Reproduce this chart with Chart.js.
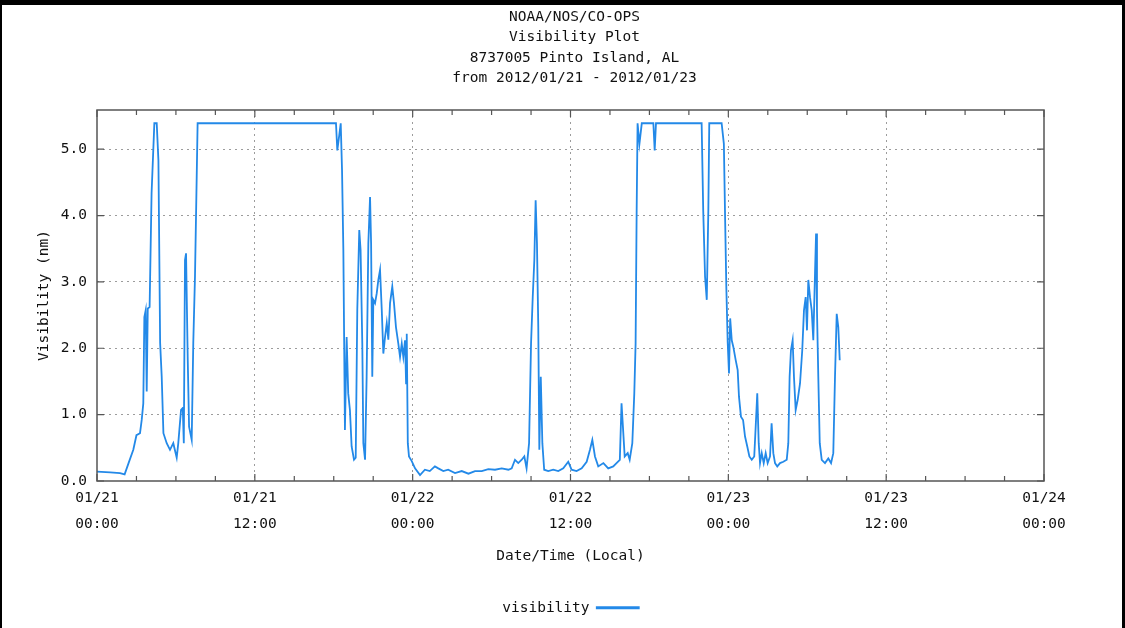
<!DOCTYPE html>
<html lang="en">
<head>
<meta charset="UTF-8">
<title>Visibility Plot</title>
<script src="https://cdn.jsdelivr.net/npm/chart.js"></script>
<style>
    body { margin: 0; background: #000; }
    .frame {
        position: absolute;
        left: 2px;
        top: 5px;
        width: 1120px;
        height: 623px;
        background: #fff;
    }
</style>
</head>
<body>
<div class="frame"><canvas id="visChart" width="1120" height="623"></canvas></div>
<script>
const titleLines = ['NOAA/NOS/CO-OPS', 'Visibility Plot', '8737005 Pinto Island, AL', 'from 2012/01/21 - 2012/01/23'];

// hours since 01/21 00:00 (local)
const hours = [
    0, 1.0, 1.75, 2.1, 2.4, 2.76, 3.0, 3.27, 3.4, 3.52, 3.6, 3.7, 3.78, 3.86, 4.0, 4.15, 4.36, 4.54, 4.67, 4.8,
    4.92, 5.05, 5.3, 5.55, 5.8, 6.06, 6.18, 6.39, 6.52, 6.6, 6.69, 6.77, 6.9, 7.0, 7.2, 7.32, 7.45, 7.58, 7.65, 12,
    18.17, 18.27, 18.42, 18.53, 18.63, 18.73, 18.85, 18.98, 19.1, 19.23, 19.36, 19.54, 19.67, 19.79, 19.94, 20.04, 20.17, 20.25, 20.38, 20.5,
    20.63, 20.76, 20.84, 20.93, 21.01, 21.14, 21.27, 21.39, 21.52, 21.65, 21.77, 21.9, 22.03, 22.15, 22.28, 22.45, 22.58, 22.73, 22.91, 23.04,
    23.17, 23.29, 23.42, 23.5, 23.55, 23.63, 23.72, 23.93, 24.18, 24.56, 24.93, 25.3, 25.69, 25.95, 26.33, 26.7, 27.22, 27.73, 28.24, 28.74,
    29.25, 29.75, 30.26, 30.77, 31.28, 31.53, 31.78, 32.03, 32.29, 32.49, 32.66, 32.85, 33.0, 33.13, 33.25, 33.35, 33.45, 33.55, 33.63, 33.74,
    33.86, 34.0, 34.31, 34.69, 35.07, 35.45, 35.83, 36.08, 36.46, 36.85, 37.23, 37.48, 37.66, 37.86, 38.11, 38.5, 38.87, 39.25, 39.5, 39.75,
    39.88, 40.0, 40.12, 40.35, 40.5, 40.7, 40.85, 40.95, 41.03, 41.1, 41.24, 41.42, 42.3, 42.4, 42.5, 45.97, 46.09, 46.23, 46.36, 46.48,
    46.55, 47.49, 47.66, 47.76, 47.85, 47.95, 48.05, 48.14, 48.26, 48.38, 48.56, 48.71, 48.81, 48.96, 49.12, 49.27, 49.44, 49.6, 49.78, 49.97,
    50.08, 50.2, 50.31, 50.41, 50.54, 50.69, 50.84, 50.99, 51.17, 51.29, 51.42, 51.55, 51.72, 51.93, 52.18, 52.44, 52.56, 52.66, 52.76, 52.89,
    52.99, 53.12, 53.27, 53.45, 53.62, 53.75, 53.88, 53.98, 54.08, 54.21, 54.34, 54.46, 54.59, 54.67, 54.74, 54.84, 54.95, 55.1, 55.35, 55.6,
    55.81, 55.98, 56.11, 56.24, 56.36, 56.47
];

// visibility (nm)
const visibility = [
    0.14, 0.13, 0.12, 0.10, 0.27, 0.47, 0.69, 0.72, 0.92, 1.17, 2.47, 2.57, 1.35, 2.60, 2.62, 4.34, 5.39, 5.39, 4.83, 2.08,
    1.57, 0.72, 0.57, 0.47, 0.57, 0.35, 0.57, 1.07, 1.10, 0.57, 3.33, 3.43, 1.82, 0.82, 0.62, 2.08, 3.08, 4.58, 5.39, 5.39,
    5.39, 4.98, 5.21, 5.39, 4.68, 3.48, 0.77, 2.17, 1.32, 1.07, 0.52, 0.32, 0.35, 2.58, 3.78, 3.48, 2.07, 0.57, 0.32, 1.57,
    3.58, 4.28, 3.58, 1.57, 2.73, 2.68, 2.83, 3.03, 3.18, 2.58, 1.92, 2.17, 2.38, 2.13, 2.68, 2.93, 2.68, 2.32, 2.07, 1.87,
    2.07, 1.87, 2.12, 1.47, 2.22, 0.57, 0.37, 0.30, 0.19, 0.09, 0.17, 0.15, 0.22, 0.19, 0.15, 0.17, 0.12, 0.15, 0.11, 0.15,
    0.15, 0.18, 0.17, 0.19, 0.17, 0.19, 0.32, 0.27, 0.32, 0.37, 0.19, 0.57, 2.07, 2.78, 3.33, 4.23, 3.58, 2.32, 0.47, 1.57,
    0.57, 0.17, 0.15, 0.17, 0.15, 0.19, 0.29, 0.17, 0.15, 0.19, 0.29, 0.47, 0.62, 0.37, 0.22, 0.27, 0.19, 0.22, 0.27, 0.32,
    1.17, 0.77, 0.37, 0.42, 0.32, 0.57, 1.32, 2.07, 4.08, 5.39, 5.08, 5.39, 5.39, 4.98, 5.39, 5.39, 4.08, 3.08, 2.73, 4.08,
    5.39, 5.39, 5.08, 3.90, 2.90, 2.10, 1.62, 2.45, 2.12, 2.02, 1.82, 1.67, 1.27, 0.97, 0.92, 0.67, 0.52, 0.37, 0.32, 0.37,
    0.82, 1.32, 0.57, 0.27, 0.42, 0.27, 0.42, 0.27, 0.37, 0.87, 0.42, 0.27, 0.22, 0.27, 0.29, 0.32, 0.57, 1.57, 1.97, 2.12,
    1.57, 1.07, 1.22, 1.47, 1.97, 2.57, 2.77, 2.27, 3.03, 2.77, 2.57, 2.12, 3.13, 3.73, 2.57, 1.57, 0.57, 0.32, 0.27, 0.34,
    0.27, 0.42, 1.57, 2.52, 2.32, 1.82
];

const xTickHours = [0, 12, 24, 36, 48, 60, 72];
const xTickLabels = [['01/21', '00:00'], ['01/21', '12:00'], ['01/22', '00:00'], ['01/22', '12:00'],
                     ['01/23', '00:00'], ['01/23', '12:00'], ['01/24', '00:00']];
const xMinorStep = 3;
const yTicks = [0, 1, 2, 3, 4, 5];

const fontFamily = '"DejaVu Sans Mono", "Liberation Mono", monospace';
const textColor = '#111';
const gridColor = '#9c9c9c';

// gnuplot style box with inward ticks on all four sides
const framePlugin = {
    id: 'frame',
    afterDatasetsDraw(chart) {
        const { ctx, chartArea: a, scales: { x, y } } = chart;
        ctx.save();
        ctx.strokeStyle = '#555';
        ctx.lineWidth = 1.5;
        ctx.strokeRect(a.left, a.top, a.right - a.left, a.bottom - a.top);
        ctx.lineWidth = 1.2;
        ctx.beginPath();
        for (let h = x.min; h <= x.max; h += xMinorStep) {
            const px = x.getPixelForValue(h);
            const len = xTickHours.includes(h) ? 7 : 5;
            ctx.moveTo(px, a.bottom); ctx.lineTo(px, a.bottom - len);
            ctx.moveTo(px, a.top); ctx.lineTo(px, a.top + len);
        }
        yTicks.forEach(v => {
            const py = y.getPixelForValue(v);
            ctx.moveTo(a.left, py); ctx.lineTo(a.left + 7, py);
            ctx.moveTo(a.right, py); ctx.lineTo(a.right - 7, py);
        });
        ctx.stroke();
        ctx.restore();
    }
};

const ctx = document.getElementById('visChart').getContext('2d');
new Chart(ctx, {
    type: 'line',
    data: {
        datasets: [{
            label: 'visibility',
            data: hours.map((h, i) => ({ x: h, y: visibility[i] })),
            borderColor: '#2389e8',
            backgroundColor: '#2389e8',
            borderWidth: 1.8,
            pointRadius: 0,
            tension: 0,
            fill: false
        }]
    },
    options: {
        responsive: false,
        animation: false,
        devicePixelRatio: 1,
        layout: { padding: { left: 25, right: 0, top: 0, bottom: 3 } },
        plugins: {
            title: {
                display: true,
                text: titleLines,
                color: textColor,
                font: { family: fontFamily, size: 14.5, weight: 'normal', lineHeight: '20.3px' },
                padding: { top: 2, bottom: 21.8 }
            },
            legend: {
                display: true,
                position: 'bottom',
                fullSize: false,
                rtl: true,
                textDirection: 'ltr',
                labels: {
                    color: textColor,
                    font: { family: fontFamily, size: 14.5 },
                    boxWidth: 42,
                    boxHeight: 1,
                    padding: 4
                }
            },
            tooltip: { enabled: false }
        },
        scales: {
            x: {
                type: 'linear',
                min: 0,
                max: 72,
                afterBuildTicks: s => { s.ticks = xTickHours.map(v => ({ value: v })); },
                afterFit: s => { s.height = 115.5; },
                ticks: {
                    autoSkip: false,
                    maxRotation: 0,
                    padding: 4,
                    color: textColor,
                    font: { family: fontFamily, size: 14.5, lineHeight: '26px' },
                    callback: v => xTickLabels[xTickHours.indexOf(v)]
                },
                grid: {
                    drawTicks: false,
                    lineWidth: 1,
                    color: c => (c.tick && c.tick.value > 0 && c.tick.value < 72) ? gridColor : 'transparent'
                },
                border: { display: false, dash: [2, 4] },
                title: {
                    display: true,
                    text: 'Date/Time (Local)',
                    color: textColor,
                    font: { family: fontFamily, size: 14.5 },
                    padding: { top: 0, bottom: 32 }
                }
            },
            y: {
                min: 0,
                max: 5.59,
                afterBuildTicks: s => { s.ticks = yTicks.map(v => ({ value: v })); },
                afterFit: s => { s.width = 70; },
                ticks: {
                    padding: 10,
                    color: textColor,
                    font: { family: fontFamily, size: 14.5 },
                    callback: v => v.toFixed(1)
                },
                grid: {
                    drawTicks: false,
                    lineWidth: 1,
                    color: c => (c.tick && c.tick.value > 0) ? gridColor : 'transparent'
                },
                border: { display: false, dash: [2, 4] },
                title: {
                    display: true,
                    text: 'Visibility (nm)',
                    color: textColor,
                    font: { family: fontFamily, size: 14.5 },
                    padding: { top: 9, bottom: 0 }
                }
            },
            // empty right margin of the plot box
            yRight: {
                position: 'right',
                display: true,
                afterFit: s => { s.width = 78; },
                ticks: { display: false },
                grid: { display: false, drawTicks: false },
                border: { display: false }
            }
        }
    },
    plugins: [framePlugin]
});
</script>
</body>
</html>
